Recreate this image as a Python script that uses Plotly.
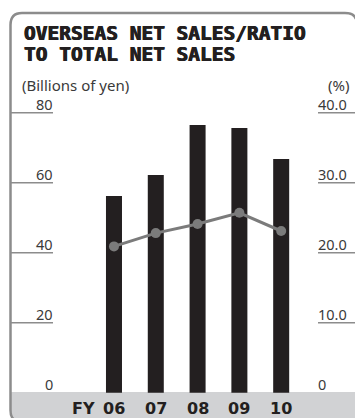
import plotly.graph_objects as go

# Overseas net sales (billions of yen) and ratio to total net sales (%)
years = ["06", "07", "08", "09", "10"]
overseas_sales = [56.2, 62.2, 76.5, 75.6, 66.8]
overseas_ratio = [20.9, 22.8, 24.1, 25.7, 23.1]

left_ticks = [0, 20, 40, 60, 80]
left_tick_text = ["0", "20", "40", "60", "80"]
right_ticks = [0, 10, 20, 30, 40]
right_tick_text = ["0", "10.0", "20.0", "30.0", "40.0"]

W, H = 355, 418
DARK = "#231f20"
GREY_LINE = "#7b7b7b"
FRAME = "#8c8c8c"
BAND = "#d1d2d4"
LABEL = "#3a3a3a"
LIGHT_FONT = "Noto Sans"


def px(x):
    return x / W


def py(y):
    return 1 - y / H


xs = list(range(len(years)))

fig = go.Figure()
fig.add_trace(go.Bar(
    x=xs, y=overseas_sales, width=0.383,
    marker=dict(color=DARK, line=dict(width=0)),
    yaxis="y", hoverinfo="skip",
))
fig.add_trace(go.Scatter(
    x=xs, y=overseas_ratio, yaxis="y2", mode="lines+markers",
    line=dict(color=GREY_LINE, width=3),
    marker=dict(color=GREY_LINE, size=10),
    hoverinfo="skip",
))

shapes = []
# grey band under the baseline
shapes.append(dict(type="rect", xref="paper", yref="paper",
                   x0=px(11), x1=1, y0=py(418), y1=py(392),
                   fillcolor=BAND, line=dict(width=0), layer="below"))
# rounded frame on the left and top
frame_path = (
    f"M {px(10.5)} {py(410)} "
    f"L {px(10.5)} {py(25)} "
    f"Q {px(10.5)} {py(13)} {px(22)} {py(13)} "
    f"L {px(345)} {py(13)} "
    f"Q {px(354)} {py(13)} {px(356)} {py(19)}"
)
shapes.append(dict(type="path", xref="paper", yref="paper", path=frame_path,
                   line=dict(color=FRAME, width=2.5)))
# bottom-left rounding of the frame
shapes.append(dict(type="path", xref="paper", yref="paper",
                   path=f"M {px(10.5)} {py(410)} Q {px(10.5)} {py(418)} {px(15)} {py(420)}",
                   line=dict(color=FRAME, width=2.5)))

annotations = []
for v, t in zip(left_ticks, left_tick_text):
    if v > 0:
        shapes.append(dict(type="line", xref="paper", yref="y",
                           x0=px(10), x1=px(53), y0=v, y1=v,
                           line=dict(color=FRAME, width=1.5)))
    annotations.append(dict(xref="paper", yref="y", x=px(54), y=v,
                            text=t, showarrow=False, xanchor="right",
                            yanchor="bottom", yshift=-2, borderpad=0,
                            font=dict(family=LIGHT_FONT, size=14.5, color=LABEL)))
for v, t in zip(right_ticks, right_tick_text):
    if v > 0:
        shapes.append(dict(type="line", xref="paper", yref="y2",
                           x0=px(318), x1=1, y0=v, y1=v,
                           line=dict(color=FRAME, width=1.5)))
    annotations.append(dict(xref="paper", yref="y2", x=px(317), y=v,
                            text=t, showarrow=False, xanchor="left",
                            yanchor="bottom", yshift=-2, borderpad=0,
                            font=dict(family=LIGHT_FONT, size=14.5, color=LABEL)))

# category labels along the band
for x, t in zip(xs, years):
    annotations.append(dict(xref="x", yref="paper", x=x, y=py(408),
                            text=f"<b>{t}</b>", showarrow=False,
                            xanchor="center", yanchor="middle",
                            font=dict(family="DejaVu Sans", size=16, color=DARK)))
annotations.append(dict(xref="paper", yref="paper", x=px(97), y=py(408),
                        text="<b>FY</b>", showarrow=False,
                        xanchor="right", yanchor="middle",
                        font=dict(family="DejaVu Sans", size=16, color=DARK)))

# title and unit labels
title_font = dict(family="DejaVu Sans Mono", size=19.5, color=DARK,
                  shadow="0.5px 0 0 #231f20, -0.5px 0 0 #231f20")
annotations.append(dict(xref="paper", yref="paper", x=px(22), y=py(34),
                        text="<b>OVERSEAS NET SALES/RATIO</b>", showarrow=False,
                        xanchor="left", yanchor="middle", font=title_font))
annotations.append(dict(xref="paper", yref="paper", x=px(22), y=py(54),
                        text="<b>TO TOTAL NET SALES</b>", showarrow=False,
                        xanchor="left", yanchor="middle", font=title_font))
annotations.append(dict(xref="paper", yref="paper", x=px(21), y=py(85),
                        text="(Billions of yen)", showarrow=False,
                        xanchor="left", yanchor="middle", borderpad=0,
                        font=dict(family=LIGHT_FONT, size=15, color=LABEL)))
annotations.append(dict(xref="paper", yref="paper", x=px(350), y=py(85),
                        text="(%)", showarrow=False,
                        xanchor="right", yanchor="middle", borderpad=0,
                        font=dict(family=LIGHT_FONT, size=15, color=LABEL)))

fig.update_layout(
    width=W, height=H,
    margin=dict(l=0, r=0, t=0, b=0),
    paper_bgcolor="white", plot_bgcolor="rgba(0,0,0,0)",
    showlegend=False,
    xaxis=dict(range=[-2.727, 5.766], visible=False, fixedrange=True),
    yaxis=dict(range=[-7.23, 112.2], visible=False, fixedrange=True),
    yaxis2=dict(range=[-3.614, 56.1], visible=False, overlaying="y",
                side="right", fixedrange=True),
    shapes=shapes,
    annotations=annotations,
)

fig.write_html("out.html", config={"displayModeBar": False})
